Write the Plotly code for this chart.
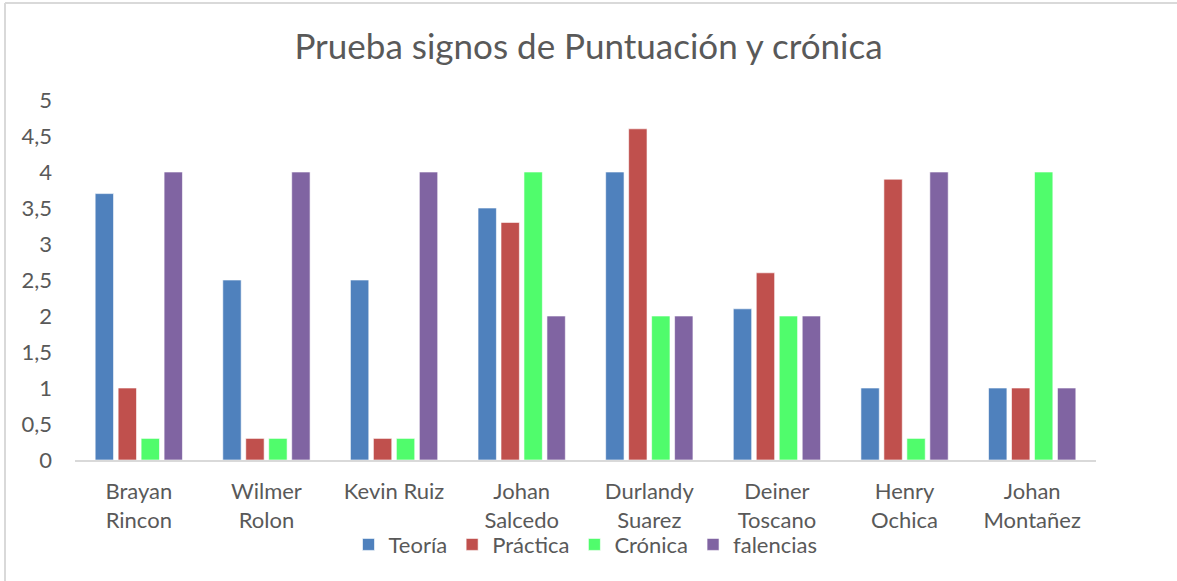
import plotly.graph_objects as go

categories = ["Brayan<br>Rincon", "Wilmer<br>Rolon", "Kevin Ruiz", "Johan<br>Salcedo",
              "Durlandy<br>Suarez", "Deiner<br>Toscano", "Henry<br>Ochica", "Johan<br>Montañez"]
teoria = [3.7, 2.5, 2.5, 3.5, 4, 2.1, 1, 1]
practica = [1, 0.3, 0.3, 3.3, 4.6, 2.6, 3.9, 1]
cronica = [0.3, 0.3, 0.3, 4, 2, 2, 0.3, 4]
falencias = [4, 4, 4, 2, 2, 2, 4, 1]
tick_vals = [0, 0.5, 1, 1.5, 2, 2.5, 3, 3.5, 4, 4.5, 5]
tick_text = ["0", "0,5", "1", "1,5", "2", "2,5", "3", "3,5", "4", "4,5", "5"]

series = [("Teoría", teoria, "#4F81BD"), ("Práctica", practica, "#C0504D"),
          ("Crónica", cronica, "#50FC6C"), ("falencias", falencias, "#8064A2")]

FONT = "Lato, Liberation Sans, sans-serif"
fig = go.Figure()
for name, vals, col in series:
    fig.add_trace(go.Bar(x=categories, y=vals, name=name, marker_color=col,
                         marker_line=dict(color="rgba(255,255,255,0.6)", width=1)))

fig.update_layout(
    width=1177, height=581,
    paper_bgcolor="white", plot_bgcolor="white",
    margin=dict(l=75, r=81, t=100, b=121),
    title=dict(text="Prueba signos de Puntuación y crónica", x=0.5, xanchor="center",
               y=0.92, yanchor="middle", font=dict(family=FONT, size=35, color="#595959")),
    barmode="group", bargap=0.28, bargroupgap=0.2,
    font=dict(family=FONT, size=22, color="#595959"),
    xaxis=dict(showline=True, linecolor="#D9D9D9", linewidth=2, ticks="", showgrid=False,
               ticklabelstandoff=11, tickfont=dict(size=22, color="#595959")),
    yaxis=dict(range=[0, 5], tickvals=tick_vals, ticktext=tick_text, showgrid=False,
               zeroline=False, showline=False, ticks="", ticklabelstandoff=22,
               tickfont=dict(size=22, color="#595959")),
    legend=dict(orientation="h", x=0.5, xanchor="center", y=-0.235, yanchor="middle",
                bgcolor="rgba(0,0,0,0)",
                font=dict(size=22, color="#595959"), itemwidth=30, traceorder="normal"),
    shapes=[
        dict(type="line", xref="paper", yref="paper", x0=-70/1021, x1=1102/1021,
             y0=(581-121-3)/360, y1=(581-121-3)/360, line=dict(color="#D9D9D9", width=2)),
        dict(type="line", xref="paper", yref="paper", x0=-70/1021, x1=-70/1021,
             y0=(581-121-3)/360, y1=-121/360, line=dict(color="#D9D9D9", width=2)),
    ],
)

fig.write_html("out.html", config={"displayModeBar": False},
               post_script="document.body.style.margin='0';")
